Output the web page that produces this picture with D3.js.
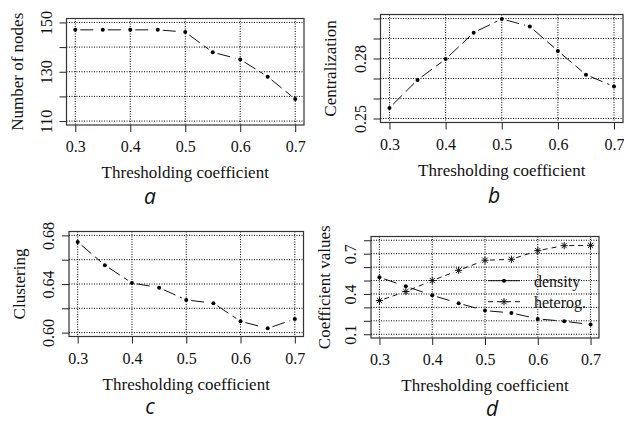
<!DOCTYPE html>
<html>
<head>
<meta charset="utf-8">
<script src="https://cdn.jsdelivr.net/npm/d3@7"></script>
<style>
  body { margin: 0; background: #fff; }
  svg { display: block; }
</style>
</head>
<body>
<div id="chart"></div>
<script>
// values
var thresholds = [0.3, 0.35, 0.4, 0.45, 0.5, 0.55, 0.6, 0.65, 0.7];
var nodes = [147, 147, 147, 147, 146.1, 137.9, 135, 128, 118.9];
var centralization = [0.2553, 0.2693, 0.2797, 0.2929, 0.2998, 0.2960, 0.2838, 0.2719, 0.2660];
var clustering = [0.6746, 0.6555, 0.6408, 0.6370, 0.6269, 0.6242, 0.6093, 0.6035, 0.6112];
var density = [0.524, 0.457, 0.390, 0.331, 0.276, 0.259, 0.214, 0.197, 0.172];
var heterog = [0.351, 0.418, 0.500, 0.576, 0.651, 0.658, 0.723, 0.760, 0.762];

var xTicks = [0.3, 0.4, 0.5, 0.6, 0.7];
var xLabels = ["0.3", "0.4", "0.5", "0.6", "0.7"];
var nodeTicks = [110, 120, 130, 140, 150];
var nodeLabels = ["110", "", "130", "", "150"];
var centTicks = [0.25, 0.26, 0.27, 0.28, 0.29, 0.30];
var centLabels = ["0.25", "", "", "0.28", "", ""];
var clusTicks = [0.60, 0.62, 0.64, 0.66, 0.68];
var clusLabels = ["0.60", "", "0.64", "", "0.68"];
var coefTicks = [0.1, 0.2, 0.3, 0.4, 0.5, 0.6, 0.7, 0.8];
var coefLabels = ["0.1", "", "", "0.4", "", "", "0.7", ""];

var serif = '"Liberation Serif", "Times New Roman", serif';

var svg = d3.select("#chart").append("svg")
  .attr("width", 624)
  .attr("height", 426);

// one R-style panel
function panel(opt) {
  var b = opt.box; // left, right, top, bottom
  var xlo = 0.3, xhi = 0.7, xp = (xhi - xlo) * 0.04;
  var ylo = opt.ylim[0], yhi = opt.ylim[1], yp = (yhi - ylo) * 0.04;
  var x = d3.scaleLinear().domain([xlo - xp, xhi + xp]).range([b[0], b[1]]);
  var y = d3.scaleLinear().domain([ylo - yp, yhi + yp]).range([b[3], b[2]]);

  var g = svg.append("g");

  // grid
  g.selectAll(".vgrid").data(xTicks).enter().append("line")
    .attr("x1", function(d) { return x(d); }).attr("x2", function(d) { return x(d); })
    .attr("y1", b[2]).attr("y2", b[3])
    .attr("stroke", "#000").attr("stroke-width", 1).attr("stroke-dasharray", "1,1.5");
  g.selectAll(".hgrid").data(opt.yTicks).enter().append("line")
    .attr("x1", b[0]).attr("x2", b[1])
    .attr("y1", function(d) { return y(d); }).attr("y2", function(d) { return y(d); })
    .attr("stroke", "#000").attr("stroke-width", 1).attr("stroke-dasharray", "1,1.5");

  // axes
  var ax = g.append("g")
    .attr("transform", "translate(0," + b[3] + ")")
    .call(d3.axisBottom(x).tickValues(xTicks).tickSize(7).tickPadding(4)
      .tickFormat(function(d, i) { return xLabels[i]; }));
  ax.attr("font-family", null);
  ax.select(".domain").remove();
  ax.selectAll("line").attr("stroke", "#222");
  ax.selectAll("text").style("font-family", serif).style("font-size", "16px").attr("fill", "#111")
    .attr("y", 27).attr("dy", 0);

  var ay = g.append("g")
    .attr("transform", "translate(" + b[0] + ",0)")
    .call(d3.axisLeft(y).tickValues(opt.yTicks).tickSize(7)
      .tickFormat(function(d, i) { return opt.yLabels[i]; }));
  ay.attr("font-family", null);
  ay.select(".domain").remove();
  ay.selectAll("line").attr("stroke", "#222");
  ay.selectAll("text").style("font-family", serif).style("font-size", "16px").attr("fill", "#111")
    .attr("transform", "rotate(-90)")
    .attr("x", 0).attr("y", -15).attr("dy", 0)
    .attr("text-anchor", "middle");

  // frame
  g.append("rect")
    .attr("x", b[0]).attr("y", b[2])
    .attr("width", b[1] - b[0]).attr("height", b[3] - b[2])
    .attr("fill", "none").attr("stroke", "#333").attr("stroke-width", 1.2);

  // titles
  g.append("text")
    .attr("x", (b[0] + b[1]) / 2).attr("y", b[3] + 53)
    .attr("text-anchor", "middle")
    .style("font-family", serif).style("font-size", "17px").attr("fill", "#111")
    .text("Thresholding coefficient");
  g.append("text")
    .attr("transform", "translate(" + opt.ytx + "," + ((b[2] + b[3]) / 2) + ") rotate(-90)")
    .attr("text-anchor", "middle")
    .style("font-family", serif).style("font-size", "17px").attr("fill", "#111")
    .text(opt.ytitle);

  // panel letter
  g.append("text")
    .attr("x", opt.letter[0]).attr("y", opt.letter[1])
    .attr("text-anchor", "middle")
    .style("font-family", '"Open Sans", sans-serif').style("font-style", "italic")
    .style("font-size", "21px").attr("fill", "#111")
    .text(opt.name);

  opt.series.forEach(function(s) {
    var pts = thresholds.map(function(t, i) { return [x(t), y(s.values[i])]; });
    // type="b": line pieces with gaps round the points
    var gap = 5;
    for (var i = 0; i < pts.length - 1; i++) {
      var p = pts[i], q = pts[i + 1];
      var dx = q[0] - p[0], dy = q[1] - p[1], len = Math.sqrt(dx * dx + dy * dy);
      if (len <= 2 * gap) continue;
      var ux = dx / len, uy = dy / len;
      g.append("line")
        .attr("x1", p[0] + ux * gap).attr("y1", p[1] + uy * gap)
        .attr("x2", q[0] - ux * gap).attr("y2", q[1] - uy * gap)
        .attr("stroke", "#111").attr("stroke-width", 1)
        .attr("stroke-dasharray", s.dash);
    }
    drawPoints(g, pts, s.pch);
  });

  return { x: x, y: y, g: g };
}

function drawPoints(g, pts, pch) {
  if (pch === "star") {
    var r = 3.6;
    pts.forEach(function(p) {
      var path = d3.path();
      path.moveTo(p[0] - r, p[1]); path.lineTo(p[0] + r, p[1]);
      path.moveTo(p[0], p[1] - r); path.lineTo(p[0], p[1] + r);
      var k = r * 0.72;
      path.moveTo(p[0] - k, p[1] - k); path.lineTo(p[0] + k, p[1] + k);
      path.moveTo(p[0] - k, p[1] + k); path.lineTo(p[0] + k, p[1] - k);
      g.append("path").attr("d", path.toString())
        .attr("stroke", "#111").attr("stroke-width", 1).attr("fill", "none");
    });
  } else {
    g.selectAll(null).data(pts).enter().append("circle")
      .attr("cx", function(p) { return p[0]; })
      .attr("cy", function(p) { return p[1]; })
      .attr("r", 2).attr("fill", "#000");
  }
}

var longdash = "13,5";
var shortdash = "5,4";

panel({ name: "a", box: [66.5, 304, 18.5, 125], ylim: [110, 150],
  yTicks: nodeTicks, yLabels: nodeLabels, ytitle: "Number of nodes", ytx: 23,
  letter: [150, 204], series: [{ values: nodes, dash: longdash, pch: "dot" }] });

panel({ name: "b", box: [380.5, 623, 14.5, 122.5], ylim: [0.25, 0.30],
  yTicks: centTicks, yLabels: centLabels, ytitle: "Centralization", ytx: 336,
  letter: [494, 203], series: [{ values: centralization, dash: longdash, pch: "dot" }] });

panel({ name: "c", box: [69, 303.5, 231.5, 336.5], ylim: [0.60, 0.68],
  yTicks: clusTicks, yLabels: clusLabels, ytitle: "Clustering", ytx: 25,
  letter: [150, 414], series: [{ values: clustering, dash: longdash, pch: "dot" }] });

var pd = panel({ name: "d", box: [371, 599, 236.5, 338], ylim: [0.1, 0.8],
  yTicks: coefTicks, yLabels: coefLabels, ytitle: "Coefficient values", ytx: 330,
  letter: [492, 416], series: [
    { values: density, dash: longdash, pch: "dot" },
    { values: heterog, dash: shortdash, pch: "star" }
  ] });

// legend of panel d
var legend = [
  { label: "density", dash: null, pch: "dot", y: 280.7 },
  { label: "heterog.", dash: shortdash, pch: "star", y: 301.7 }
];
legend.forEach(function(l) {
  pd.g.append("line")
    .attr("x1", 488).attr("x2", 520).attr("y1", l.y).attr("y2", l.y)
    .attr("stroke", "#111").attr("stroke-width", 1)
    .attr("stroke-dasharray", l.dash);
  drawPoints(pd.g, [[504, l.y]], l.pch);
  pd.g.append("text")
    .attr("x", 534).attr("y", l.y + 6)
    .style("font-family", serif).style("font-size", "16px").attr("fill", "#111")
    .text(l.label);
});
</script>
</body>
</html>
